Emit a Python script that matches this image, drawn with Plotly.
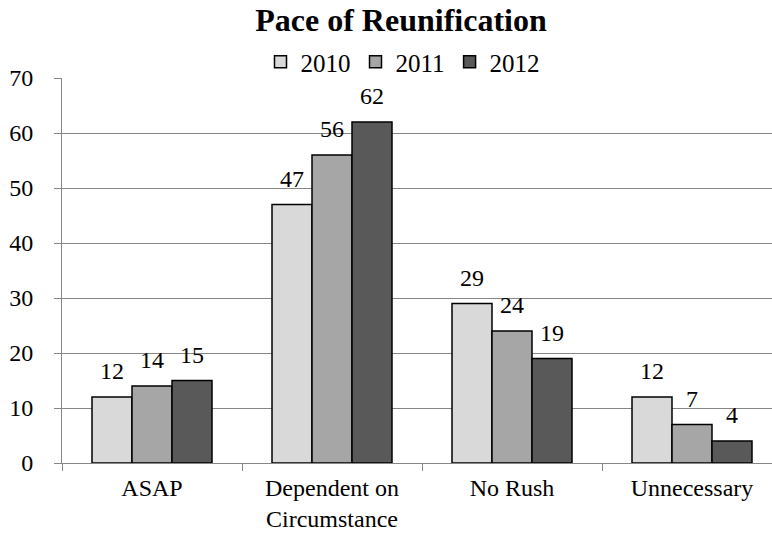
import plotly.graph_objects as go

categories = ["ASAP", "Dependent on<br>Circumstance", "No Rush", "Unnecessary"]
series_names = ["2010", "2011", "2012"]
values_2010 = [12, 47, 29, 12]
values_2011 = [14, 56, 24, 7]
values_2012 = [15, 62, 19, 4]
y_ticks = [0, 10, 20, 30, 40, 50, 60, 70]

series_values = [values_2010, values_2011, values_2012]
colors = ["#d9d9d9", "#a6a6a6", "#595959"]
FONT = "Liberation Serif"
GRID = "#878787"
BARGAP = 1 / 3

fig = go.Figure()
for name, vals, col in zip(series_names, series_values, colors):
    fig.add_trace(go.Bar(
        x=categories, y=vals, name=name,
        marker=dict(color=col, line=dict(color="#000000", width=1.5)),
    ))

# data labels
n = len(series_names)
bw = (1 - BARGAP) / n
annotations = []
for i, vals in enumerate(series_values):
    for j, v in enumerate(vals):
        annotations.append(dict(
            x=j + (i - (n - 1) / 2) * bw, y=v, xref="x", yref="y",
            text=str(v), showarrow=False, yanchor="bottom", xanchor="center",
            yshift=11, font=dict(family=FONT, size=24, color="#000000"),
        ))

fig.update_layout(
    width=772, height=533,
    margin=dict(l=62, r=0, t=78, b=70, autoexpand=False),
    paper_bgcolor="white", plot_bgcolor="white",
    barmode="group", bargap=BARGAP, bargroupgap=0,
    font=dict(family=FONT, size=24, color="#000000"),
    title=dict(text="<b>Pace of Reunification</b>", x=401 / 772, xref="container",
               xanchor="center", y=1 - 20 / 533, yref="container", yanchor="middle",
               font=dict(family=FONT, size=32, color="#000000")),
    legend=dict(orientation="h", x=403 / 772, xref="container", xanchor="center",
                y=1 - 62 / 533, yref="container", yanchor="middle",
                font=dict(family=FONT, size=25, color="#000000"),
                itemwidth=30, tracegroupgap=0, bgcolor="rgba(0,0,0,0)"),
    annotations=annotations,
    showlegend=True,
)
fig.update_xaxes(
    type="category", range=[-0.5, len(categories) - 0.5 - 10 / 180],
    showline=True, linecolor=GRID, linewidth=1, automargin=False,
    ticks="outside", tickson="boundaries", ticklen=7, tickcolor=GRID,
    showgrid=False, ticklabelstandoff=3,
    tickfont=dict(family=FONT, size=24, color="#000000"),
)
fig.update_yaxes(
    range=[0, 70], tickvals=y_ticks, showline=True, linecolor=GRID, linewidth=1,
    ticks="outside", ticklen=7, tickcolor=GRID, automargin=False,
    showgrid=True, gridcolor=GRID, gridwidth=1, zeroline=False,
    ticklabelstandoff=16,
    tickfont=dict(family=FONT, size=24, color="#000000"),
)

fig.write_html("out.html", config={"displayModeBar": False},
               post_script="document.body.style.margin='0';")
